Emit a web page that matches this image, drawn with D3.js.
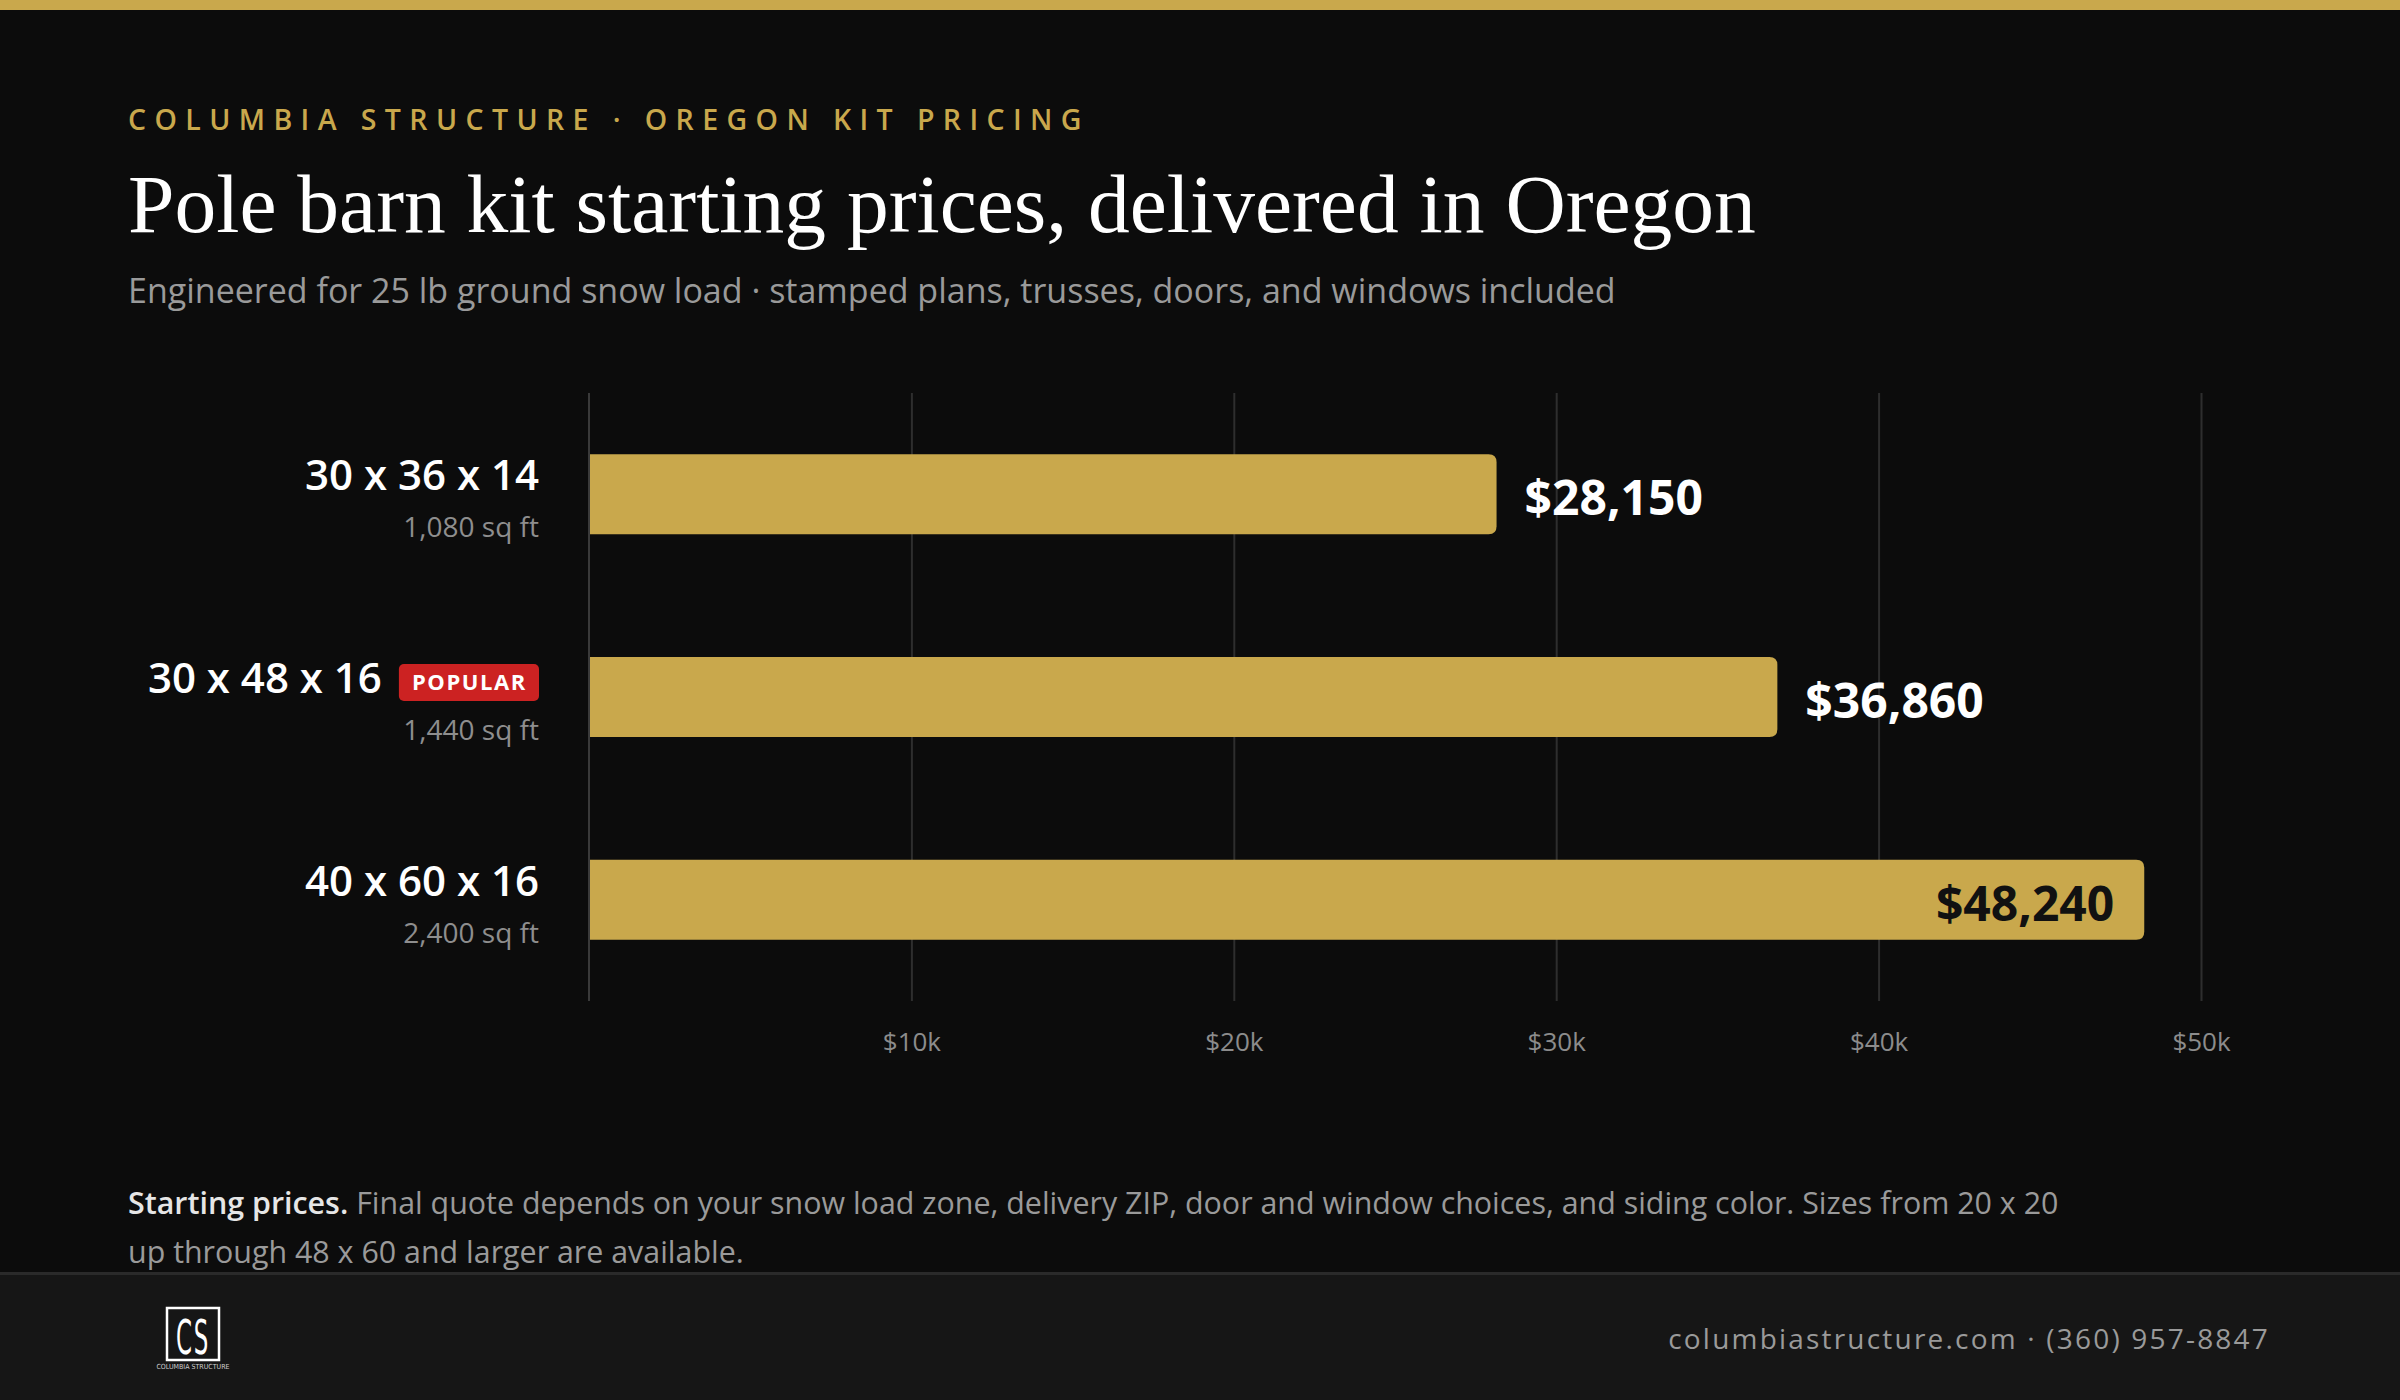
<!DOCTYPE html>
<html>
<head>
<meta charset="utf-8">
<script src="https://cdn.jsdelivr.net/npm/d3@7"></script>
<style>
  html, body { margin: 0; padding: 0; background: #0c0c0c; }
  svg { display: block; }
  .sans { font-family: "Open Sans", "Noto Sans", sans-serif; }
</style>
</head>
<body>
<script>
(function(){

//chart data
var sizes = ["30 x 36 x 14", "30 x 48 x 16", "40 x 60 x 16"];
var areas = ["1,080 sq ft", "1,440 sq ft", "2,400 sq ft"];
var prices = [28150, 36860, 48240];
var badges = ["", "POPULAR", ""];
var tickValues = [10000, 20000, 30000, 40000, 50000];

var eyebrow = "COLUMBIA STRUCTURE · OREGON KIT PRICING";
var title = "Pole barn kit starting prices, delivered in Oregon";
var subtitle = "Engineered for 25 lb ground snow load · stamped plans, trusses, doors, and windows included";
var noteLead = "Starting prices.";
var noteLines = [" Final quote depends on your snow load zone, delivery ZIP, door and window choices, and siding color. Sizes from 20 x 20",
                 "up through 48 x 60 and larger are available."];
var contact = "columbiastructure.com · (360) 957-8847";

//colours
var gold = "#c9a84c",
    bg = "#0c0c0c";

var width = 2400, height = 1400;

var svg = d3.select("body")
    .append("svg")
    .attr("width", width)
    .attr("height", height);

svg.append("rect").attr("width", width).attr("height", height).attr("fill", bg);
//gold strip along the top
svg.append("rect").attr("width", width).attr("height", 10).attr("fill", gold);

//header texts
svg.append("text")
    .attr("class", "sans")
    .attr("x", 128).attr("y", 130)
    .attr("fill", gold)
    .style("font-size", "28.5px")
    .style("font-weight", 600)
    .style("letter-spacing", "8.4px")
    .text(eyebrow);

svg.append("text")
    .attr("x", 128).attr("y", 232)
    .attr("fill", "#ffffff")
    .style("font-family", "'Liberation Serif', 'DejaVu Serif', serif")
    .style("font-size", "83.5px")
    .text(title);

svg.append("text")
    .attr("class", "sans")
    .attr("x", 128).attr("y", 303)
    .attr("fill", "#9a9a9a")
    .style("font-size", "34px")
    .text(subtitle);

//scales
var x = d3.scaleLinear()
    .domain([0, 50000])
    .range([589, 2201]);

var y = d3.scaleBand()
    .domain(sizes)
    .range([393, 1001])
    .paddingInner(0.605)
    .paddingOuter(0.3025);

//gridlines and tick labels through an axis
var axis = svg.append("g")
    .attr("class", "axis sans")
    .attr("transform", "translate(0,1001)")
    .call(d3.axisBottom(x)
        .tickValues(tickValues)
        .tickSize(-608)
        .tickPadding(32)
        .tickFormat(function(d){ return "$" + d / 1000 + "k"; }));
axis.select(".domain").remove();
axis.selectAll(".tick line").attr("stroke", "#2e2e2e").attr("stroke-width", 2);
axis.selectAll(".tick text")
    .attr("fill", "#8c8c8c")
    .style("font-size", "26px")
    .style("font-family", "'Open Sans', sans-serif");

//zero baseline
svg.append("line")
    .attr("x1", x(0)).attr("x2", x(0))
    .attr("y1", 393).attr("y2", 1001)
    .attr("stroke", "#3a3a3a")
    .attr("stroke-width", 2);

//bar shape: square on the left, rounded on the right
function barPath(x0, x1, y0, h, r){
    return "M" + x0 + "," + y0 +
        "H" + (x1 - r) +
        "Q" + x1 + "," + y0 + " " + x1 + "," + (y0 + r) +
        "V" + (y0 + h - r) +
        "Q" + x1 + "," + (y0 + h) + " " + (x1 - r) + "," + (y0 + h) +
        "H" + x0 + "Z";
}

var rows = svg.selectAll(".row")
    .data(sizes)
    .enter()
    .append("g")
    .attr("class", "row sans");

rows.append("path")
    .attr("d", function(d, i){
        return barPath(x(0) + 1, x(prices[i]), y(d), y.bandwidth(), 8);
    })
    .attr("fill", gold);

//value labels: outside the bar unless they would run past the last gridline
rows.append("text")
    .attr("y", function(d){ return y(d) + y.bandwidth() / 2; })
    .attr("dy", "0.44em")
    .style("font-size", "48px")
    .style("font-weight", 700)
    .text(function(d, i){ return "$" + d3.format(",")(prices[i]); })
    .each(function(d, i){
        var t = d3.select(this),
            w = this.getComputedTextLength(),
            end = x(prices[i]);
        if (end + 28 + w > x.range()[1]) {
            t.attr("x", end - 30).attr("text-anchor", "end").attr("fill", "#111111");
        } else {
            t.attr("x", end + 28).attr("fill", "#ffffff");
        }
    });

//category labels
var labelRight = 539;
rows.each(function(d, i){
    var g = d3.select(this),
        cy = y(d) + y.bandwidth() / 2,
        right = labelRight;

    if (badges[i]) {
        var bt = g.append("text")
            .attr("y", cy - 4 - 10.5)
            .attr("dy", "0.36em")
            .attr("fill", "#ffffff")
            .style("font-size", "22px")
            .style("font-weight", 700)
            .style("letter-spacing", "1.6px")
            .text(badges[i]);
        var bw = bt.node().getComputedTextLength() + 25;
        g.insert("rect", "text")
            .attr("x", labelRight - bw)
            .attr("y", cy - 4 - 10.5 - 18.5)
            .attr("width", bw)
            .attr("height", 37)
            .attr("rx", 5)
            .attr("fill", "#cc2222");
        bt.attr("x", labelRight - bw + 13);
        right = labelRight - bw - 17;
    }

    g.append("text")
        .attr("x", right)
        .attr("y", cy - 4)
        .attr("text-anchor", "end")
        .attr("fill", "#ffffff")
        .style("font-size", "42px")
        .style("font-weight", 600)
        .text(d);

    g.append("text")
        .attr("x", labelRight)
        .attr("y", cy + 43)
        .attr("text-anchor", "end")
        .attr("fill", "#8e8e8e")
        .style("font-size", "28px")
        .text(areas[i]);
});

//footnote
var note = svg.append("text")
    .attr("class", "sans")
    .attr("x", 128).attr("y", 1214)
    .style("font-size", "30.4px")
    .attr("fill", "#9a9a9a");
note.append("tspan")
    .attr("fill", "#e6e6e6")
    .style("font-weight", 600)
    .text(noteLead);
note.append("tspan").text(noteLines[0]);
note.append("tspan").attr("x", 128).attr("dy", 49).text(noteLines[1]);

//footer band
svg.append("rect").attr("x", 0).attr("y", 1272).attr("width", width).attr("height", 128).attr("fill", "#161616");
svg.append("rect").attr("x", 0).attr("y", 1272).attr("width", width).attr("height", 3).attr("fill", "#2a2a2a");

//logo mark
var logo = svg.append("g").attr("transform", "translate(166,1307)");
logo.append("rect")
    .attr("x", 1).attr("y", 1)
    .attr("width", 52).attr("height", 52)
    .attr("fill", "none")
    .attr("stroke", "#ffffff")
    .attr("stroke-width", 2.5);
logo.append("text")
    .attr("x", 27).attr("y", 47)
    .attr("text-anchor", "middle")
    .attr("fill", "#ffffff")
    .attr("transform", "translate(27,47) scale(0.85,1.6) translate(-27,-47)")
    .style("font-family", "'DejaVu Sans Condensed', 'DejaVu Sans', sans-serif")
    .style("font-size", "30px")
    .style("letter-spacing", "2px")
    .text("CS");
logo.append("text")
    .attr("x", 27).attr("y", 62)
    .attr("text-anchor", "middle")
    .attr("fill", "#cfcfcf")
    .style("font-family", "'DejaVu Sans Condensed', sans-serif")
    .style("font-size", "7px")
    .text("COLUMBIA STRUCTURE");

svg.append("text")
    .attr("class", "sans")
    .attr("x", 2270).attr("y", 1349)
    .attr("text-anchor", "end")
    .attr("fill", "#9a9a9a")
    .style("font-size", "28px")
    .style("letter-spacing", "2.2px")
    .text(contact);

})();
</script>
</body>
</html>
